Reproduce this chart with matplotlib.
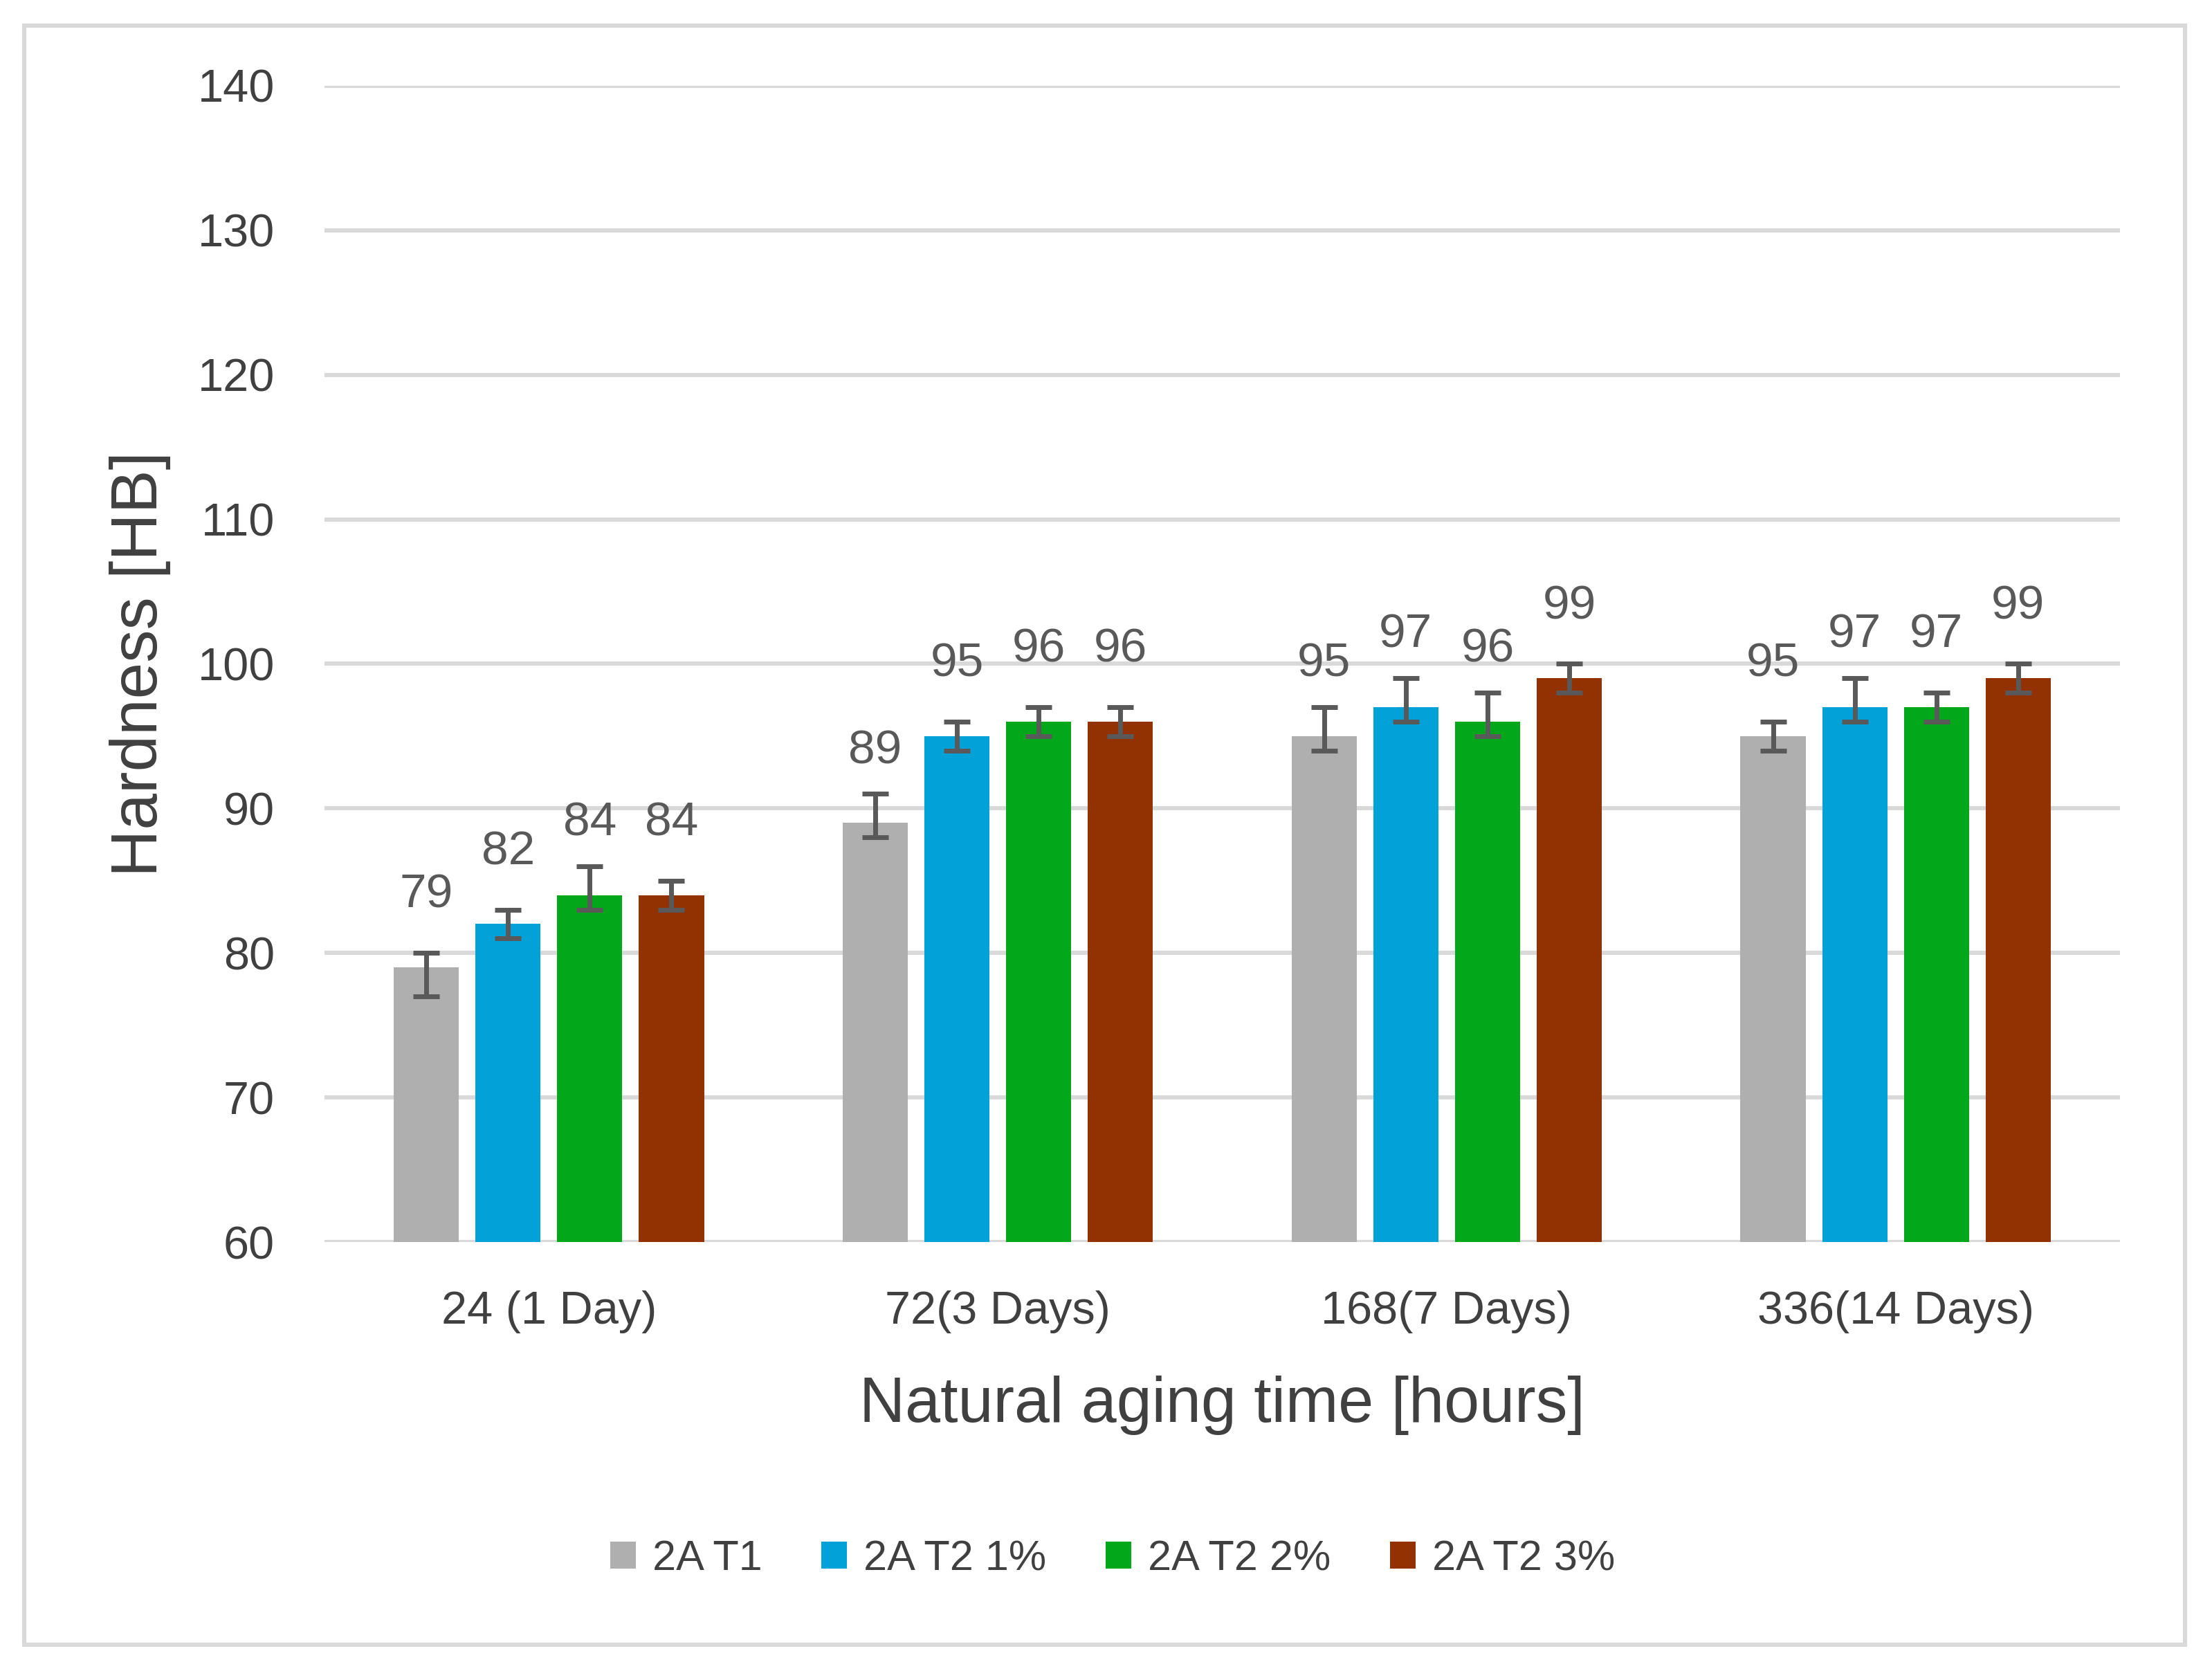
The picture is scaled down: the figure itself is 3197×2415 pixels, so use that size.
import numpy as np
import matplotlib
matplotlib.use("Agg")
import matplotlib.pyplot as plt
from matplotlib.patches import Rectangle

plt.rcParams['font.family'] = ['Liberation Sans', 'DejaVu Sans']

# data
categories = ["24 (1 Day)", "72(3 Days)", "168(7 Days)", "336(14 Days)"]
series = ["2A T1", "2A T2 1%", "2A T2 2%", "2A T2 3%"]
values = [
    [79, 89, 95, 95],
    [82, 95, 97, 97],
    [84, 96, 96, 97],
    [84, 96, 99, 99],
]
# error bar ends (min, max)
err_low = [
    [77, 88, 94, 94],
    [81, 94, 96, 96],
    [83, 95, 95, 96],
    [83, 95, 98, 98],
]
err_high = [
    [80, 91, 97, 96],
    [83, 96, 99, 99],
    [86, 97, 98, 98],
    [85, 97, 100, 100],
]
colors = ["#AFAFAF", "#02A2D8", "#02A819", "#923102"]

fig = plt.figure(figsize=(15.985, 12.075), dpi=200)
ax = fig.add_axes([0.1467, 0.2567, 0.8117, 0.692])

x = np.arange(len(categories))
width = 0.145
step = 0.182
for i, name in enumerate(series):
    v = np.array(values[i])
    lo = v - np.array(err_low[i])
    hi = np.array(err_high[i]) - v
    pos = x + (i - 1.5) * step
    ax.bar(pos, v - 60, width, bottom=60, color=colors[i], label=name, zorder=2)
    ax.errorbar(pos, v, yerr=[lo, hi], fmt='none', ecolor="#595959",
                elinewidth=2.5, capsize=6.8, capthick=2.5, zorder=3)
    for px, py in zip(pos, v):
        ax.annotate(str(py), (px, py), xytext=(0, 26), textcoords='offset points',
                    ha='center', va='bottom', fontsize=25, color="#595959")

ax.set_ylim(60, 140)
ax.set_xlim(-0.5, 3.5)
ax.set_yticks(np.arange(60, 141, 10))
ax.set_xticks(x)
ax.set_xticklabels(categories)
ax.tick_params(axis='both', length=0, labelsize=24, labelcolor="#404040")
ax.tick_params(axis='y', pad=26)
ax.tick_params(axis='x', pad=25)
ax.grid(axis='y', color="#D9D9D9", linewidth=2.2, zorder=0)
ax.set_axisbelow(True)
for s in ax.spines.values():
    s.set_visible(False)

ax.set_ylabel("Hardness [HB]", fontsize=34, color="#404040", labelpad=14)
ax.set_xlabel("Natural aging time [hours]", fontsize=33, color="#404040", labelpad=22)

fig.legend(loc='center', bbox_to_anchor=(0.503, 0.0667), ncol=4, frameon=False,
           fontsize=22, labelcolor="#404040", handlelength=0.6, handleheight=0.6,
           handletextpad=0.4, columnspacing=1.4)

fig.patches.append(Rectangle((35 / 3197, 1 - 2377 / 2415), 3123 / 3197, 2340 / 2415,
                             transform=fig.transFigure, fill=False,
                             edgecolor="#D9D9D9", linewidth=2.2))

fig.savefig("out.png", dpi=200, facecolor="white")
